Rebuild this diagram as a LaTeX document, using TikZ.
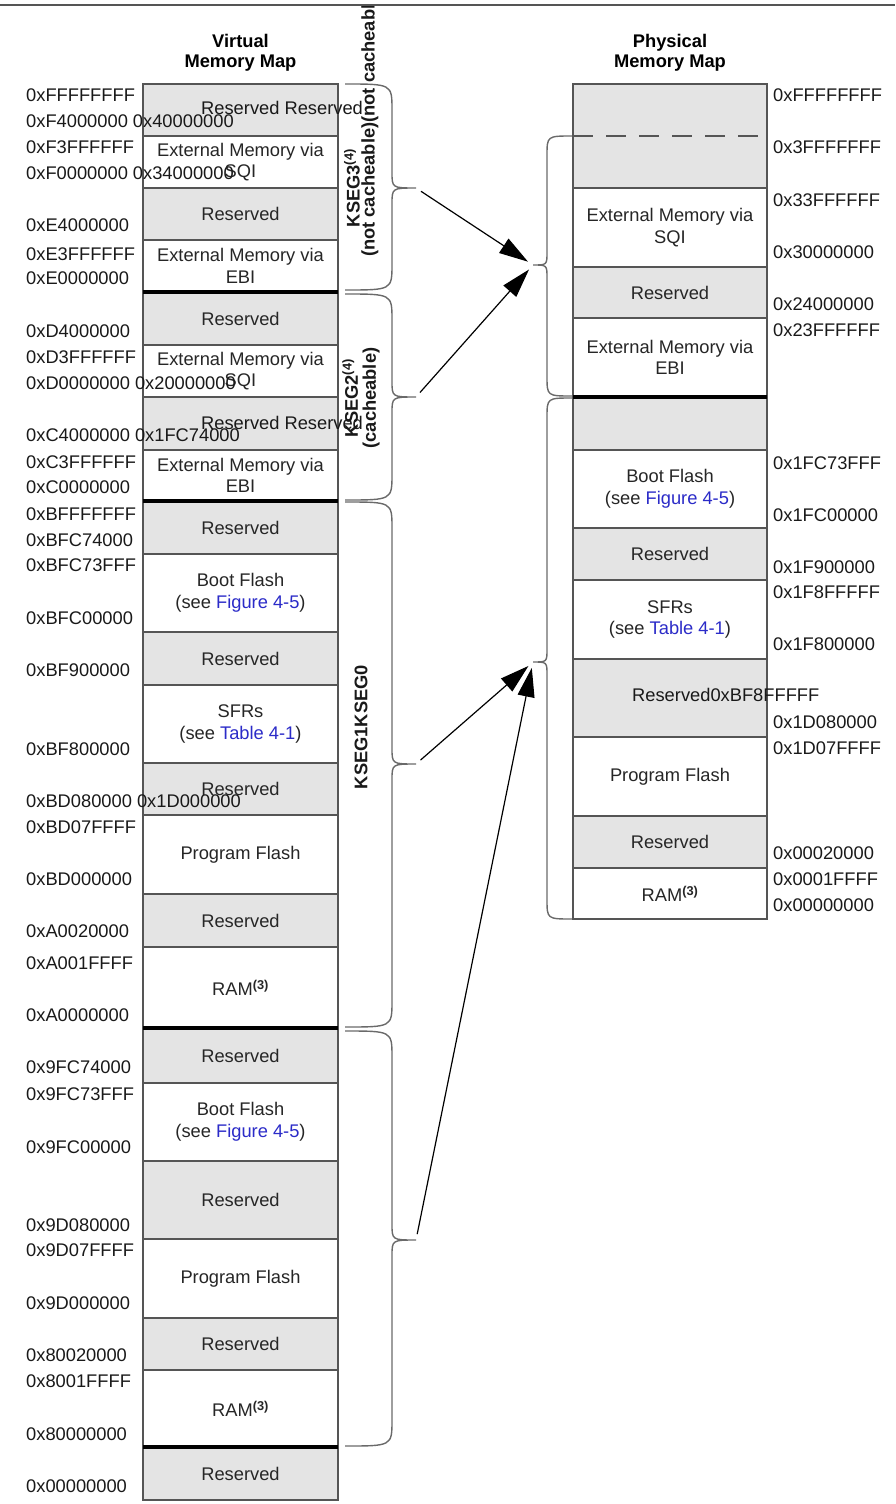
\documentclass[tikz,border=0pt]{standalone}
\usepackage{fontspec}
\setmainfont{Liberation Sans}
\usetikzlibrary{arrows.meta}
\definecolor{resgrey}{HTML}{E4E4E4}
\definecolor{blkline}{HTML}{555555}
\definecolor{bracegrey}{HTML}{6A6A6A}
\definecolor{linkblue}{HTML}{2B2BC8}
\newcommand{\maplink}[1]{\textcolor{linkblue}{#1}}
\newcommand{\mapfont}{\fontsize{18.3}{21.5}\selectfont}
% brace to the right of the virtual map, tip named #4
\newcommand{\segbrace}[4]{%
  \draw[bracel] (345,#1) .. controls (392,#1) .. (392,#1+26)
    -- (392,#2-16) .. controls (392,#2) .. (416,#2) coordinate (#4)
    .. controls (392,#2) .. (392,#2+16)
    -- (392,#3-26) .. controls (392,#3) .. (345,#3);}
% brace to the left of the physical map
\newcommand{\physbrace}[4]{%
  \draw[bracel] (572,#1) .. controls (547,#1) .. (547,#1+20)
    -- (547,#2-13) .. controls (547,#2) .. (533,#2) coordinate (#4)
    .. controls (547,#2) .. (547,#2+13)
    -- (547,#3-20) .. controls (547,#3) .. (572,#3);}

\begin{document}
\begin{tikzpicture}[x=1pt, y=-1pt,
    blk/.style={draw=blkline, line width=1.3pt, minimum width=195pt, inner sep=0pt,
                outer sep=0pt, align=center, font=\mapfont, text=black!85},
    resblk/.style={blk, fill=resgrey},
    freeblk/.style={blk, fill=white},
    addr/.style={anchor=west, inner sep=0pt, font=\mapfont, text=black!90},
    maptitle/.style={align=center, font=\fontsize{18.3}{19.5}\selectfont\bfseries},
    seglbl/.style={rotate=90, inner sep=0pt, align=center,
                   font=\fontsize{18.3}{18}\selectfont\bfseries, text=black!90},
    bracel/.style={draw=bracegrey, line width=1.4pt},
    divider/.style={line width=4pt},
    phdash/.style={draw=blkline, line width=1.3pt, dash pattern=on 20pt off 13pt},
    maparrow/.style={-{Triangle[length=29pt,width=17pt]}, line width=1.2pt,
                     shorten <=6pt, shorten >=6pt}]

  \useasboundingbox (0,0) rectangle (895,1504);
  \draw[line width=2pt, blkline] (0,5) -- (895,5);

  \node[maptitle] (vtitle) at (240.5,53) {Virtual\\Memory Map};
  \node[maptitle] (ptitle) at (670,53) {Physical\\Memory Map};

  % virtual memory map
  \foreach \nm/\st/\ya/\yb/\txt
      [evaluate=\ya as \ym using (\ya+\yb)/2, evaluate=\ya as \hh using \yb-\ya] in {
      v1/resblk/84/136/{}, v2/freeblk/136/188/{External Memory via\\SQI},
      v3/resblk/188/240/{Reserved}, v4/freeblk/240/292/{External Memory via\\EBI},
      v5/resblk/292/345/{Reserved}, v6/freeblk/345/397/{External Memory via\\SQI},
      v7/resblk/397/450/{}, v8/freeblk/450/501/{External Memory via\\EBI},
      v9/resblk/501/554/{Reserved},
      v10/freeblk/554/632/{Boot Flash\\(see \maplink{Figure 4-5})},
      v11/resblk/632/685/{Reserved},
      v12/freeblk/685/763/{SFRs\\(see \maplink{Table 4-1})},
      v13/resblk/763/815/{Reserved}, v14/freeblk/815/894/{Program Flash},
      v15/resblk/894/947/{Reserved},
      v16/freeblk/947/1028/{RAM\textsuperscript{\bfseries(3)}},
      v17/resblk/1028/1083/{Reserved},
      v18/freeblk/1083/1161/{Boot Flash\\(see \maplink{Figure 4-5})},
      v19/resblk/1161/1239/{Reserved}, v20/freeblk/1239/1318/{Program Flash},
      v21/resblk/1318/1370/{Reserved},
      v22/freeblk/1370/1447/{RAM\textsuperscript{\bfseries(3)}},
      v23/resblk/1447/1500/{Reserved}}
    \node[\st, minimum height=\hh pt] (\nm) at (240.5,\ym) {\txt};

  % physical memory map
  \foreach \nm/\st/\ya/\yb/\txt
      [evaluate=\ya as \ym using (\ya+\yb)/2, evaluate=\ya as \hh using \yb-\ya] in {
      p1/resblk/84/188/{}, p2/freeblk/188/267/{External Memory via\\SQI},
      p3/resblk/267/318/{Reserved}, p4/freeblk/318/397/{External Memory via\\EBI},
      p5/resblk/397/450/{},
      p6/freeblk/450/528/{Boot Flash\\(see \maplink{Figure 4-5})},
      p7/resblk/528/580/{Reserved},
      p8/freeblk/580/659/{SFRs\\(see \maplink{Table 4-1})},
      p9/resblk/659/737/{}, p10/freeblk/737/816/{Program Flash},
      p11/resblk/816/868/{Reserved},
      p12/freeblk/868/919/{RAM\textsuperscript{\bfseries(3)}}}
    \node[\st, minimum width=194pt, minimum height=\hh pt] (\nm) at (670,\ym) {\txt};

  \draw[phdash] (p1.west) -- (p1.east);
  \foreach \b in {v4, v8, v16, v22, p4}
    \draw[divider] (\b.south west) -- (\b.south east);

  \node[addr] (v1txt) at (201,108) {Reserved Reserved};
  \node[addr] (v7txt) at (201,423) {Reserved Reserved};
  \node[addr] (p9txt) at (632,695) {Reserved0xBF8FFFFF};

  % address labels
  \foreach \y/\txt [count=\i] in {95/0xFFFFFFFF, 121/{0xF4000000 0x40000000},
      147/0xF3FFFFFF, 173/{0xF0000000 0x34000000}, 225/0xE4000000,
      254/0xE3FFFFFF, 278/0xE0000000, 331/0xD4000000, 357/0xD3FFFFFF,
      383/{0xD0000000 0x20000000}, 435/{0xC4000000 0x1FC74000}, 462/0xC3FFFFFF,
      487/0xC0000000, 514/0xBFFFFFFF, 540/0xBFC74000, 565/0xBFC73FFF,
      618/0xBFC00000, 670/0xBF900000, 749/0xBF800000,
      801/{0xBD080000 0x1D000000}, 827/0xBD07FFFF, 879/0xBD000000,
      931/0xA0020000, 963/0xA001FFFF, 1015/0xA0000000, 1067/0x9FC74000,
      1094/0x9FC73FFF, 1147/0x9FC00000, 1225/0x9D080000, 1250/0x9D07FFFF,
      1303/0x9D000000, 1355/0x80020000, 1381/0x8001FFFF, 1434/0x80000000,
      1486/0x00000000}
    \node[addr] (va\i) at (26,\y) {\txt};
  \foreach \y/\txt [count=\i] in {95/0xFFFFFFFF, 147/0x3FFFFFFF, 200/0x33FFFFFF,
      252/0x30000000, 304/0x24000000, 330/0x23FFFFFF, 463/0x1FC73FFF,
      515/0x1FC00000, 567/0x1F900000, 592/0x1F8FFFFF, 644/0x1F800000,
      722/0x1D080000, 748/0x1D07FFFF, 853/0x00020000, 879/0x0001FFFF,
      905/0x00000000}
    \node[addr] (pa\i) at (773,\y) {\txt};

  % segment braces
  \segbrace{84}{188}{290}{k3}
  \segbrace{294}{397}{500}{k2}
  \segbrace{502}{764}{1027}{k1}
  \segbrace{1031}{1240}{1446}{k0}
  \physbrace{136}{265}{396}{phup}
  \physbrace{398}{662}{919}{phlo}

  \begin{scope}
    \clip (300,7) rectangle (420,1500);
    \node[seglbl] (k3lbl) at (352,188) {KSEG3\textsuperscript{(4)}};
    \node[seglbl, anchor=west] (k3sub) at (370,257) {(not cacheable)(not cacheable)};
  \end{scope}
  \node[seglbl] (k2lbl) at (361,398) {KSEG2\textsuperscript{(4)}\\(cacheable)};
  \node[seglbl] (k10lbl) at (361,727) {KSEG1KSEG0};

  \draw[maparrow] (k3) -- (phup);
  \draw[maparrow] (k2) -- (phup);
  \draw[maparrow] (k1) -- (phlo);
  \draw[maparrow] (k0) -- (phlo);
\end{tikzpicture}
\end{document}
